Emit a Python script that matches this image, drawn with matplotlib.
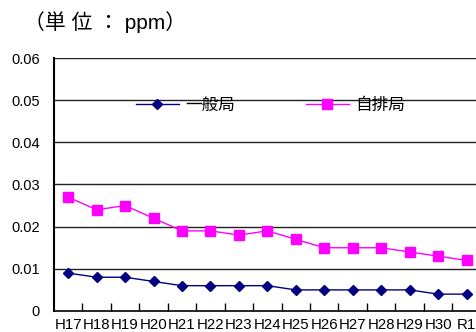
import matplotlib
matplotlib.use("Agg")
import matplotlib.pyplot as plt

plt.rcParams['font.family'] = ['Liberation Sans', 'Noto Sans CJK JP', 'DejaVu Sans']

# 年度
years = ["H17", "H18", "H19", "H20", "H21", "H22", "H23", "H24",
         "H25", "H26", "H27", "H28", "H29", "H30", "R1"]
# 一般局 (ppm)
ippan = [0.009, 0.008, 0.008, 0.007, 0.006, 0.006, 0.006, 0.006,
         0.005, 0.005, 0.005, 0.005, 0.005, 0.004, 0.004]
# 自排局 (ppm)
jihai = [0.027, 0.024, 0.025, 0.022, 0.019, 0.019, 0.018, 0.019,
         0.017, 0.015, 0.015, 0.015, 0.014, 0.013, 0.012]
yticks = [0, 0.01, 0.02, 0.03, 0.04, 0.05, 0.06]
ylabels = ["0", "0.01", "0.02", "0.03", "0.04", "0.05", "0.06"]

fig = plt.figure(figsize=(4.76, 3.32), dpi=100)
# 右端は図の外にはみ出す（元画像でも切れている）
ax = fig.add_axes([0.1134, 0.0633, 0.8966, 0.762])

x = list(range(len(years)))
ax.plot(x, ippan, color='#000080', lw=1.0, marker='D', ms=5.5,
        markeredgecolor='#000080', label='一般局')
ax.plot(x, jihai, color='#FF00FF', lw=1.0, marker='s', ms=7.5,
        markeredgecolor='#FF00FF', label='自排局')

ax.set_xlim(-0.5, len(years) - 0.5)
ax.set_ylim(0, 0.06)

# 横線
ax.set_yticks(yticks)
ax.set_yticklabels(ylabels)
for v in yticks[1:]:
    ax.axhline(v, color='#222222', lw=1.0, zorder=0)
ax.tick_params(axis='y', length=0, pad=10, labelsize=10.5)

# x 目盛り: 項目の境目に内向き
ax.set_xticks([i - 0.5 for i in range(1, len(years))], minor=True)
ax.set_xticks(x)
ax.set_xticklabels(years)
ax.tick_params(axis='x', which='major', length=0, pad=5, labelsize=10.8)
ax.tick_params(axis='x', which='minor', direction='in', length=6, width=1.0, color='black')

for s in ['top', 'right']:
    ax.spines[s].set_visible(False)
ax.spines['left'].set_linewidth(1.5)
ax.spines['bottom'].set_linewidth(1.2)

ax.legend(loc='center left', bbox_to_anchor=(0.176, 0.814), ncol=2, frameon=False,
          fontsize=12, handlelength=2.6, handletextpad=0.36, columnspacing=4.25,
          borderaxespad=0)

fig.text(0.05, 0.934, '（単 位 ： ppm）', fontsize=15, va='center', ha='left')

fig.savefig('out.png', dpi=100)
